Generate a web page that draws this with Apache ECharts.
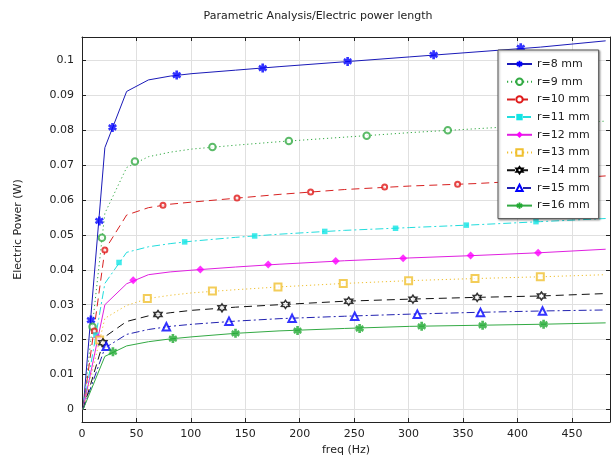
<!DOCTYPE html>
<html><head><meta charset="utf-8">
<script src="https://cdn.jsdelivr.net/npm/echarts@6/dist/echarts.min.js"></script>
<style>html,body{margin:0;padding:0;background:#fff}#c{width:611px;height:463px}</style>
</head><body><div id="c"></div><script>
// ---- data ----
const freq = [1, 21, 41, 61, 81, 101, 141, 181, 241, 301, 361, 421, 481];
const p8  = [0, 0.0750, 0.0911, 0.0944, 0.0955, 0.0962, 0.0972, 0.0982, 0.0996, 0.1010, 0.1024, 0.1038, 0.1056];
const p9  = [0, 0.0562, 0.0693, 0.0724, 0.0737, 0.0746, 0.0757, 0.0767, 0.0780, 0.0793, 0.0804, 0.0815, 0.0826];
const p10 = [0, 0.0457, 0.0557, 0.0578, 0.0588, 0.0594, 0.0605, 0.0616, 0.0630, 0.0640, 0.0647, 0.0657, 0.0669];
const p11 = [0, 0.0361, 0.0450, 0.0466, 0.0475, 0.0482, 0.0493, 0.0502, 0.0513, 0.0521, 0.0529, 0.0538, 0.0547];
const p12 = [0, 0.0300, 0.0360, 0.0386, 0.0394, 0.0399, 0.0408, 0.0416, 0.0426, 0.0434, 0.0441, 0.0449, 0.0459];
const p13 = [0, 0.0261, 0.0298, 0.0318, 0.0327, 0.0334, 0.0343, 0.0351, 0.0361, 0.0369, 0.0375, 0.0380, 0.0386];
const p14 = [0, 0.0208, 0.0252, 0.0268, 0.0277, 0.0284, 0.0293, 0.0300, 0.0310, 0.0316, 0.0321, 0.0325, 0.0332];
const p15 = [0, 0.0176, 0.0215, 0.0229, 0.0238, 0.0244, 0.0253, 0.0260, 0.0267, 0.0273, 0.0278, 0.0282, 0.0285];
const p16 = [0, 0.0152, 0.0182, 0.0194, 0.0202, 0.0208, 0.0218, 0.0225, 0.0232, 0.0238, 0.0241, 0.0244, 0.0248];

// marker positions along each curve [freq, power]
const m8  = [[8.2,0.0256],[15.9,0.0540],[28,0.0808],[87,0.0958],[166,0.0978],[244,0.0997],[323,0.1016],[403,0.1036]];
const m9  = [[9.7,0.0237],[18.3,0.0492],[48.6,0.0710],[119.8,0.0752],[190,0.0769],[261.5,0.0784],[336,0.0800]];
const m10 = [[11.3,0.0225],[21,0.0457],[74.4,0.0585],[142.4,0.0606],[210,0.0623],[278,0.0637],[345,0.0645]];
const m11 = [[12.8,0.0213],[34,0.0421],[94.3,0.0480],[158.6,0.0497],[223,0.0510],[288,0.0519],[353,0.0528],[417,0.0538]];
const m12 = [[14.8,0.0206],[47,0.0370],[108.7,0.0401],[171,0.0415],[233,0.0425],[295,0.0433],[357,0.0441],[419,0.0449]];
const m13 = [[16.2,0.0199],[60,0.0318],[119.8,0.0339],[180,0.0351],[240,0.0361],[300,0.0369],[361,0.0375],[421,0.0380]];
const m14 = [[19.2,0.0191],[69.8,0.0272],[128.6,0.0291],[186.9,0.0301],[245,0.0310],[304,0.0316],[363,0.0321],[422,0.0325]];
const m15 = [[22.3,0.0181],[77.5,0.0237],[135,0.0253],[193,0.0261],[250.5,0.0267],[308,0.0273],[366,0.0278],[423,0.0282]];
const m16 = [[28.4,0.0165],[83.5,0.0203],[141,0.0218],[198,0.0226],[255,0.0232],[312,0.0238],[368,0.0241],[424,0.0244]];

const names = ['r=8 mm','r=9 mm','r=10 mm','r=11 mm','r=12 mm','r=13 mm','r=14 mm','r=15 mm','r=16 mm'];

// ---- styling ----
const ASTER = 'path://M-1.5,-5L-1.5,5L1.5,5L1.5,-5ZM3.58,3.8L5.08,1.2L-3.58,-3.8L-5.08,-1.2ZM-5.08,1.2L-3.58,3.8L5.08,-1.2L3.58,-3.8Z';
const HEXA = 'path://M0,-5L1.45,-2.51L4.33,-2.5L2.9,0L4.33,2.5L1.45,2.51L0,5L-1.45,2.51L-4.33,2.5L-2.9,0L-4.33,-2.5L-1.45,-2.51Z';
const DOT = [1.2, 2.8], DASH = [8, 5], DASHDOT = [8, 3, 2, 3];

const defs = [
  {d:p8,  m:m8,  line:'#1a1ab8', type:'solid', sym:ASTER, size:9, it:{color:'#0000ff', borderWidth:0}},
  {d:p9,  m:m9,  line:'#33aa44', type:DOT,     sym:'emptyCircle', size:6.5, it:{color:'#33aa44', borderWidth:1.5}},
  {d:p10, m:m10, line:'#d82222', type:DASH,    sym:'emptyCircle', size:5, it:{color:'#e01818', borderWidth:1.5}},
  {d:p11, m:m11, line:'#22dddd', type:DASHDOT, sym:'rect', size:5.5, it:{color:'#11e5e5', borderWidth:0}},
  {d:p12, m:m12, line:'#e020e0', type:'solid', sym:'diamond', size:8, it:{color:'#ff00ff', borderWidth:0}},
  {d:p13, m:m13, line:'#f0c030', type:DOT,     sym:'emptyRect', size:7, it:{color:'#f0c030', borderWidth:2}},
  {d:p14, m:m14, line:'#111111', type:DASH,    sym:HEXA, size:8, it:{color:'#ffffff', borderColor:'#000000', borderWidth:1.5}},
  {d:p15, m:m15, line:'#2222b0', type:DASHDOT, sym:'emptyTriangle', size:7.5, it:{color:'#0000ff', borderWidth:1.8}},
  {d:p16, m:m16, line:'#33aa44', type:'solid', sym:ASTER, size:9, it:{color:'#22aa33', borderWidth:0}}
];

const series = [];
defs.forEach((s, k) => {
  series.push({
    type:'line', name:names[k], data:freq.map((f,i)=>[f, s.d[i]]),
    showSymbol:false, symbol:s.sym, symbolSize:s.size, itemStyle:s.it,
    lineStyle:{color:s.line, width:1, type:s.type}, z:2, silent:true
  });
  series.push({
    type:'scatter', name:names[k], data:s.m, symbol:s.sym, symbolSize:s.size,
    itemStyle:s.it, z:3, silent:true
  });
});

const font = 'DejaVu Sans';
const axisCol = '#222';
const chart = echarts.init(document.getElementById('c'), null, {renderer:'canvas'});
chart.setOption({
  animation:false,
  backgroundColor:'#fff',
  textStyle:{fontFamily:font},
  title:{text:'Parametric Analysis/Electric power length', left:313, top:6, textAlign:'center',
         textStyle:{fontFamily:font, fontSize:11, fontWeight:'normal', color:'#222'}},
  grid:{left:82, right:1, top:37, bottom:41, containLabel:false},
  legend:{
    data:names, orient:'vertical', left:498, top:50,
    itemWidth:25, itemHeight:8, itemGap:5.7, padding:[8,9,7,8],
    backgroundColor:'#fff', borderColor:'#555', borderWidth:1,
    shadowBlur:2, shadowColor:'rgba(0,0,0,0.35)', shadowOffsetX:1, shadowOffsetY:1,
    textStyle:{fontFamily:font, fontSize:11, color:'#222', lineHeight:12}, selectedMode:false
  },
  xAxis:[{
    type:'value', min:0, max:485, splitNumber:10, position:'bottom',
    name:'freq (Hz)', nameLocation:'middle', nameGap:19,
    nameTextStyle:{fontFamily:font, fontSize:11, color:'#222'},
    axisLine:{show:true, onZero:false, lineStyle:{color:axisCol, width:1}},
    axisTick:{show:true, inside:true, length:4, lineStyle:{color:axisCol}},
    axisLabel:{fontFamily:font, fontSize:11, color:'#222', margin:7, showMaxLabel:false},
    splitLine:{show:true, lineStyle:{color:'#e0e0e0', width:1}}
  },{
    type:'value', min:0, max:485, splitNumber:10, position:'top',
    axisLine:{show:true, onZero:false, lineStyle:{color:axisCol, width:1}},
    axisTick:{show:true, inside:true, length:4, lineStyle:{color:axisCol}},
    axisLabel:{show:false}, splitLine:{show:false}
  }],
  yAxis:[{
    type:'value', min:-0.0036, max:0.1067, splitNumber:11, position:'left',
    name:'Electric Power (W)', nameLocation:'middle', nameGap:58,
    nameTextStyle:{fontFamily:font, fontSize:11, color:'#222'},
    axisLine:{show:true, onZero:false, lineStyle:{color:axisCol, width:1}},
    axisTick:{show:true, inside:true, length:4, lineStyle:{color:axisCol}},
    axisLabel:{fontFamily:font, fontSize:11, color:'#222', margin:8, showMinLabel:false, showMaxLabel:false},
    splitLine:{show:true, lineStyle:{color:'#e0e0e0', width:1}}
  },{
    type:'value', min:-0.0036, max:0.1067, splitNumber:11, position:'right',
    axisLine:{show:true, onZero:false, lineStyle:{color:axisCol, width:1}},
    axisTick:{show:true, inside:true, length:4, lineStyle:{color:axisCol}},
    axisLabel:{show:false}, splitLine:{show:false}
  }],
  series:series
});
</script></body></html>
